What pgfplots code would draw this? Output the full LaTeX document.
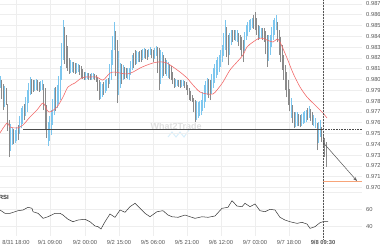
\documentclass[border=0pt]{standalone}
\usepackage{pgfplots}
\pgfplotsset{compat=1.18}
\usepackage{pgfplotstable}
\usepackage{fontspec}
\setmainfont{Liberation Sans}
\usetikzlibrary{arrows.meta}

\definecolor{cblue}{HTML}{7CC6EE}
\definecolor{cgray}{HTML}{8A8A8A}
\definecolor{mared}{HTML}{F26A6A}
\definecolor{lvl}{HTML}{4A4A4A}
\definecolor{tgt}{HTML}{F7A479}
\definecolor{gridc}{HTML}{EEEEEE}
\definecolor{lbl}{HTML}{555555}

\pgfplotstableread{
x lo hi
0 0.97921 0.98032
4.5 0.97741 0.97940
10.5 0.97338 0.97588
12 0.97394 0.97551
15 0.97412 0.97532
16.5 0.97426 0.97556
19.5 0.97496 0.97658
21 0.97551 0.97736
22.5 0.97588 0.97755
25.5 0.97662 0.97838
27 0.97699 0.97903
28.5 0.97778 0.97963
30 0.97856 0.98023
34.5 0.97894 0.98000
36 0.97903 0.98005
40.5 0.97894 0.97986
42 0.97903 0.97995
48 0.97384 0.97606
49.5 0.97435 0.97662
51 0.97486 0.97718
52.5 0.97579 0.97820
54 0.97671 0.97921
57 0.97736 0.97949
58.5 0.97773 0.98037
60 0.97810 0.98125
61.5 0.97996 0.98338
63 0.98181 0.98551
70.5 0.98060 0.98181
72 0.98069 0.98162
76.5 0.98060 0.98149
78 0.98069 0.98144
85.5 0.98000 0.98065
87 0.98005 0.98060
91.5 0.98000 0.98056
93 0.98005 0.98060
100.5 0.97824 0.97977
102 0.97838 0.97958
105 0.97875 0.97995
106.5 0.97898 0.98005
109.5 0.97958 0.98144
111 0.97995 0.98273
112.5 0.98134 0.98403
114 0.98273 0.98532
118.5 0.97852 0.98260
120 0.97921 0.98153
123 0.97995 0.98134
127.5 0.98005 0.98106
129 0.97995 0.98106
130.5 0.98042 0.98167
132 0.98088 0.98227
136.5 0.98148 0.98264
138 0.98162 0.98255
142.5 0.98181 0.98283
144 0.98199 0.98292
148.5 0.98204 0.98287
150 0.98227 0.98301
154.5 0.98190 0.98292
156 0.98218 0.98310
160.5 0.97959 0.98274
162 0.98014 0.98255
166.5 0.98033 0.98181
168 0.98014 0.98162
175.5 0.97931 0.98005
177 0.97940 0.97995
181.5 0.97931 0.97995
183 0.97940 0.97995
196.5 0.97625 0.97801
198 0.97644 0.97792
199.5 0.97658 0.97801
201 0.97671 0.97810
202.5 0.97704 0.97880
204 0.97736 0.97949
205.5 0.97796 0.97982
207 0.97856 0.98014
211.5 0.97866 0.98051
213 0.97921 0.98106
214.5 0.97968 0.98144
216 0.98014 0.98181
217.5 0.98042 0.98204
219 0.98069 0.98227
220.5 0.98116 0.98273
222 0.98162 0.98319
223.5 0.98218 0.98435
225 0.98273 0.98551
229.5 0.98227 0.98435
231 0.98319 0.98458
235.5 0.98357 0.98458
237 0.98347 0.98458
244.5 0.98264 0.98436
246 0.98366 0.98505
247.5 0.98403 0.98528
249 0.98440 0.98551
250.5 0.98459 0.98560
252 0.98477 0.98569
259.5 0.98375 0.98491
261 0.98384 0.98477
268.5 0.98172 0.98412
270 0.98227 0.98412
271.5 0.98297 0.98482
273 0.98366 0.98551
274.5 0.98412 0.98574
276 0.98458 0.98597
291 0.97644 0.97829
295.5 0.97560 0.97699
297 0.97569 0.97699
301.5 0.97574 0.97685
303 0.97588 0.97699
304.5 0.97597 0.97709
306 0.97606 0.97718
309 0.97644 0.97755
313.5 0.97565 0.97672
315 0.97551 0.97644
318.5 0.97408 0.97611
320 0.97468 0.97625
}\upcandles

\pgfplotstableread{
x lo hi
1.5 0.97820 0.97995
3 0.97718 0.97958
6 0.97764 0.97921
7.5 0.97523 0.97773
9 0.97282 0.97625
13.5 0.97403 0.97542
18 0.97440 0.97579
24 0.97625 0.97773
31.5 0.97870 0.98009
33 0.97884 0.97995
37.5 0.97894 0.97991
39 0.97884 0.97977
43.5 0.97718 0.97958
45 0.97532 0.97921
46.5 0.97458 0.97764
55.5 0.97704 0.97935
64.5 0.98144 0.98482
66 0.98106 0.98412
67.5 0.98079 0.98306
69 0.98051 0.98199
73.5 0.98060 0.98158
75 0.98051 0.98153
79.5 0.98042 0.98135
81 0.98014 0.98125
82.5 0.98005 0.98097
84 0.97995 0.98069
88.5 0.98000 0.98056
90 0.97995 0.98051
94.5 0.97991 0.98051
96 0.97977 0.98042
97.5 0.97894 0.98019
99 0.97810 0.97995
103.5 0.97857 0.97977
108 0.97921 0.98014
115.5 0.98028 0.98449
117 0.97782 0.98366
121.5 0.97958 0.98144
124.5 0.98005 0.98120
126 0.98014 0.98106
133.5 0.98111 0.98250
135 0.98134 0.98273
139.5 0.98162 0.98264
141 0.98162 0.98273
145.5 0.98190 0.98283
147 0.98181 0.98273
151.5 0.98195 0.98287
153 0.98162 0.98273
157.5 0.98060 0.98301
159 0.97903 0.98292
163.5 0.98033 0.98227
165 0.98051 0.98199
169.5 0.98005 0.98144
171 0.97995 0.98125
172.5 0.97958 0.98070
174 0.97921 0.98014
178.5 0.97931 0.97995
180 0.97921 0.97995
184.5 0.97922 0.97986
186 0.97903 0.97977
187.5 0.97857 0.97949
189 0.97810 0.97921
190.5 0.97801 0.97889
192 0.97792 0.97856
193.5 0.97699 0.97833
195 0.97606 0.97810
208.5 0.97833 0.98005
210 0.97810 0.97995
226.5 0.98204 0.98482
228 0.98134 0.98412
232.5 0.98343 0.98458
234 0.98366 0.98458
238.5 0.98310 0.98435
240 0.98273 0.98412
241.5 0.98218 0.98389
243 0.98162 0.98366
253.5 0.98468 0.98597
255 0.98458 0.98625
256.5 0.98412 0.98565
258 0.98366 0.98505
262.5 0.98366 0.98477
264 0.98347 0.98477
265.5 0.98232 0.98445
267 0.98116 0.98412
277.5 0.98343 0.98528
279 0.98227 0.98458
280.5 0.98158 0.98389
282 0.98088 0.98319
283.5 0.97996 0.98227
285 0.97903 0.98134
286.5 0.97834 0.98065
288 0.97764 0.97995
289.5 0.97704 0.97912
292.5 0.97598 0.97764
294 0.97551 0.97699
298.5 0.97565 0.97685
300 0.97560 0.97671
307.5 0.97625 0.97737
310.5 0.97612 0.97727
312 0.97579 0.97699
317 0.97347 0.97597
321.5 0.97422 0.97556
323 0.97375 0.97486
324.5 0.97283 0.97454
326 0.97190 0.97421
}\downcandles

\pgfplotstableread{
x ma
0 0.97505
7 0.97597
10 0.97560
17 0.97551
23 0.97579
30 0.97653
37 0.97718
43 0.97782
47 0.97718
50 0.97699
57 0.97745
63 0.97838
68 0.97931
75 0.97968
80 0.98005
85 0.98023
90 0.98023
97 0.98023
103 0.97995
110 0.98060
115 0.98069
120 0.98060
127 0.98051
133 0.98069
140 0.98106
147 0.98134
153 0.98153
158 0.98162
163 0.98162
167 0.98153
173 0.98116
180 0.98069
187 0.98014
193 0.97949
200 0.97884
207 0.97866
213 0.97866
217 0.97903
223 0.97977
230 0.98088
237 0.98162
243 0.98227
247 0.98301
253 0.98347
260 0.98384
267 0.98366
273 0.98347
277 0.98375
280 0.98347
287 0.98199
293 0.98060
300 0.97931
307 0.97838
313 0.97782
320 0.97718
323 0.97690
327 0.97644
}\matable

\pgfplotstableread{
x rsi
0 59.4
5 55.5
10 55.5
15 57.4
18 58.6
23 59.4
28 62.6
32 61.4
33 57.4
38 55.5
43 49.6
48 51.5
55 55.5
60 55.5
63 53.5
68 48.5
73 45.6
78 47.6
85 48.5
90 45.6
95 40.6
98 39.8
101 37.1
105 45.6
110 54.7
115 50.8
120 59.4
125 56.7
130 63.3
135 67.3
140 61.4
145 55.5
150 51.5
157 57.4
163 58.6
168 53.5
172 51.5
178 50.8
185 53.5
195 49.6
202 51.5
208 50.8
215 52.4
222 61.4
228 62.6
232 70.4
237 64.1
242 63.3
245 67.3
250 63.3
255 66.5
260 58.6
265 57.4
270 60.2
275 59.4
280 50.8
285 47.6
290 45.6
297 43.7
302 44.9
307 42.9
310 37.8
315 39.8
320 44.5
323 45.6
328 45.6
}\rsitable

\pgfplotsset{
  candles/.style={draw=none, mark=none, forget plot,
    error bars/.cd, y dir=plus, y explicit, error mark=none,
    error bar style={line width=1.0pt, #1}},
  base/.style={scale only axis, width=362pt, xmin=0, xmax=362,
    enlargelimits=false,
    axis line style={draw=none}, major tick length=0pt,
    xtick={16,50,85,119,153,187,221,255,289,323},
    grid=major, major grid style={gridc, line width=0.5pt},
    yticklabel pos=right, scaled y ticks=false,
    yticklabel style={font=\fontsize{5.8}{6}\selectfont, text=lbl, anchor=west, inner sep=0pt, xshift=4pt},
    xticklabel style={font=\fontsize{5.8}{6}\selectfont, text=lbl, anchor=north, inner sep=0pt, yshift=-4.5pt},
  }
}

\begin{document}
\begin{tikzpicture}[x=1pt,y=1pt]
\useasboundingbox (0,0) rectangle (380,250);

% watermark
\node[text=gray!25, font=\bfseries\fontsize{9}{10}\selectfont, anchor=west] at (147,124) {What2Trade};
\draw[cblue!30, line width=1pt] (168,113) -- (172,118) -- (176,113) -- (180,118) -- (184,113) -- (189,120);

\begin{axis}[base, at={(0pt,60pt)}, anchor=south west, height=190pt,
  ymin=0.9697685, ymax=0.9873611, xticklabels={},
  ytick={0.970,0.971,0.972,0.973,0.974,0.975,0.976,0.977,0.978,0.979,0.980,0.981,0.982,0.983,0.984,0.985,0.986,0.987},
  yticklabel style={/pgf/number format/.cd, fixed, fixed zerofill, precision=3, assume math mode=true}]
\addplot[candles=cblue] table[x=x, y=lo, y error expr=\thisrow{hi}-\thisrow{lo}] {\upcandles};
\addplot[candles=cgray] table[x=x, y=lo, y error expr=\thisrow{hi}-\thisrow{lo}] {\downcandles};
\addplot[mared, line width=0.6pt, smooth] table[x=x, y=ma] {\matable};
\addplot[lvl, line width=1.2pt] coordinates {(23,0.97537) (323,0.97537)};
\addplot[lvl, densely dotted, line width=0.6pt] coordinates {(323,0.97537) (362,0.97537)};
\addplot[tgt, line width=0.9pt] coordinates {(323,0.97054) (362,0.97054)};
\addplot[lbl, line width=0.5pt, -{Stealth[length=4pt, width=3pt, open]}] coordinates {(323,0.97418) (357,0.97060)};
\end{axis}

\begin{axis}[base, at={(0pt,14pt)}, anchor=south west, height=46pt,
  ymin=28.82, ymax=82.94, ytick={40,60},
  extra y ticks={80}, extra y tick labels={},
  yticklabel style={/pgf/number format/assume math mode=true},
  xticklabels={8/31 18:00, 9/1 09:00, 9/2 00:00, 9/2 15:00, 9/5 06:00, 9/5 21:00, 9/6 12:00, 9/7 03:00, 9/7 18:00, \textbf{9/8 09:30}}]
\addplot[black!80, line width=0.5pt] table[x=x, y=rsi] {\rsitable};
\end{axis}

\node[anchor=east, font=\bfseries\fontsize{6}{7}\selectfont, text=black!80, inner sep=0pt] at (9,53) {RSI};
\draw[lbl, densely dotted, line width=0.5pt] (323,250) -- (323,10);
\end{tikzpicture}
\end{document}
